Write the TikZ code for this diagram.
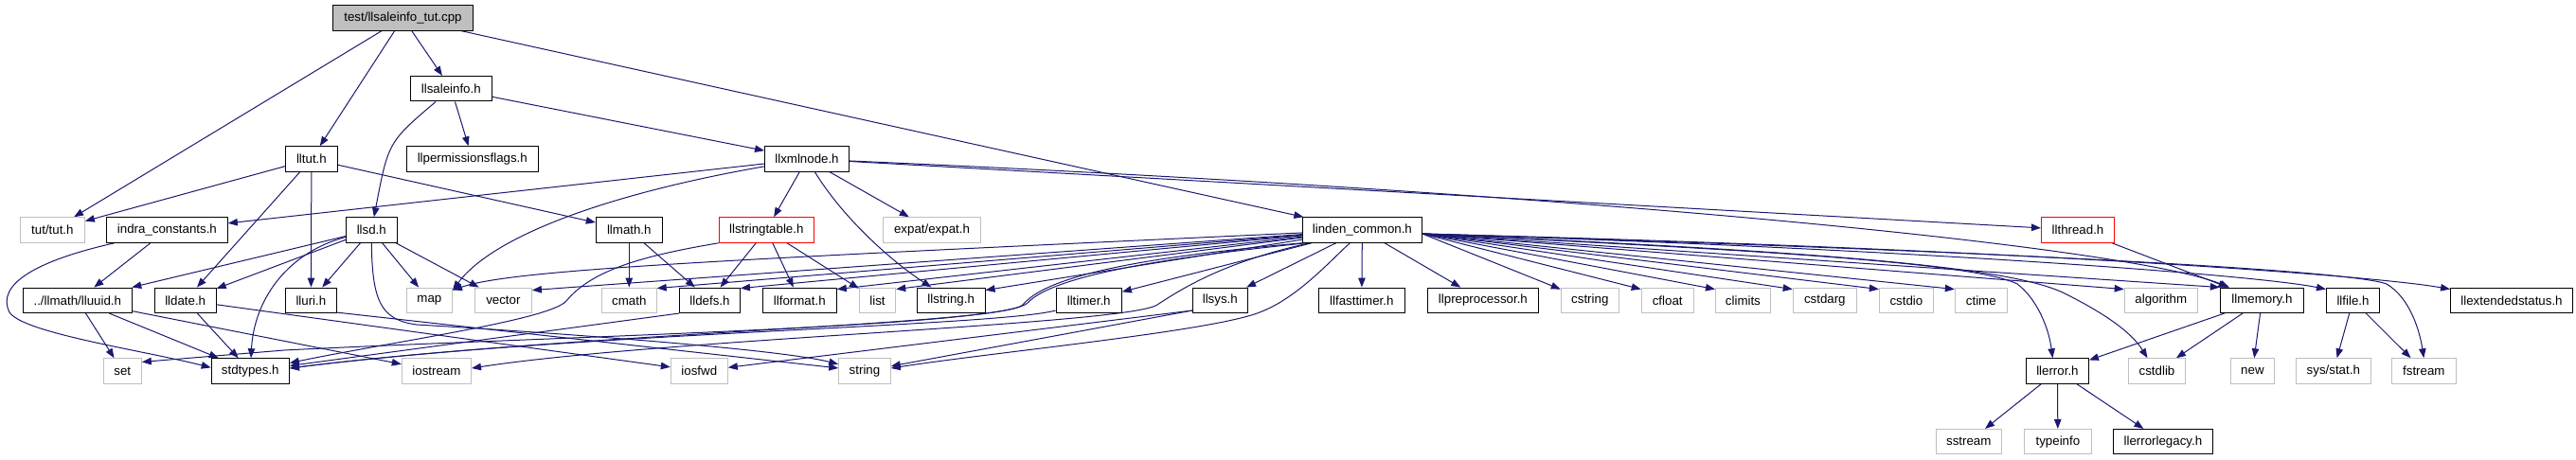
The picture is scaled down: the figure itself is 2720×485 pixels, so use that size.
\documentclass[tikz,border=0pt]{standalone}
\usepackage{fontspec}
\setmainfont{Liberation Sans}
\usetikzlibrary{arrows.meta,backgrounds}
\definecolor{edgeblue}{HTML}{191970}
\definecolor{extgray}{HTML}{BFBFBF}
\begin{document}
\begin{tikzpicture}[x=1pt,y=-1pt,
  nbox/.style={draw=black, line width=1pt, fill=white, minimum height=26.5pt, inner sep=0pt, font=\fontsize{13.3}{15}\selectfont},
  ext/.style={nbox, draw=extgray},
  trunc/.style={nbox, draw=red},
  root/.style={nbox, fill=extgray},
  inc/.style={draw=edgeblue, line width=1pt, -{Triangle[length=10pt,width=7.5pt]}},
]
\useasboundingbox (0,0) rectangle (2720,485);
% row 0
\node[root, minimum width=147.5pt] (top) at (425.5,19) {test/llsaleinfo\_tut.cpp};
% row 1
\node[nbox, minimum width=86.1pt] (saleinfo) at (476.3,93.7) {llsaleinfo.h};
% row 2
\node[nbox, minimum width=55pt] (lltut) at (328.9,168) {lltut.h};
\node[nbox, minimum width=138.9pt] (permflags) at (498.8,168) {llpermissionsflags.h};
\node[nbox, minimum width=88.9pt] (xmlnode) at (852,168) {llxmlnode.h};
% row 3
\node[ext, minimum width=67.9pt] (tuth) at (55.4,243) {tut/tut.h};
\node[nbox, minimum width=127.9pt] (indra) at (176.4,243) {indra\_constants.h};
\node[nbox, minimum width=53.9pt] (llsd) at (392.3,243) {llsd.h};
\node[nbox, minimum width=70pt] (llmath) at (664.3,243) {llmath.h};
\node[trunc, minimum width=100pt] (strtable) at (809.3,243) {llstringtable.h};
\node[ext, minimum width=102.9pt] (expat) at (984,243) {expat/expat.h};
\node[nbox, minimum width=126pt] (lc) at (1438.4,243) {linden\_common.h};
\node[trunc, minimum width=77.1pt] (thread) at (2194,243) {llthread.h};
% row 4
\node[nbox, minimum width=115pt] (uuid) at (81.8,317.3) {../llmath/lluuid.h};
\node[nbox, minimum width=65pt] (date) at (195.7,317.3) {lldate.h};
\node[nbox, minimum width=54pt] (uri) at (328.4,317.3) {lluri.h};
\node[ext, minimum width=48.2pt] (map) at (453.4,317.3) {map};
\node[ext, minimum width=60pt] (vector) at (531.4,317.3) {vector};
\node[ext, minimum width=57.8pt] (cmath) at (664.3,317.3) {cmath};
\node[nbox, minimum width=63.9pt] (defs) at (749.5,317.3) {lldefs.h};
\node[nbox, minimum width=78pt] (format) at (844.3,317.3) {llformat.h};
\node[ext, minimum width=38.4pt] (list) at (926.5,317.3) {list};
\node[nbox, minimum width=71.7pt] (lstring) at (1004.2,317.3) {llstring.h};
\node[nbox, minimum width=69.3pt] (timer) at (1149.7,317.3) {lltimer.h};
\node[nbox, minimum width=58pt] (sys) at (1288.3,317.3) {llsys.h};
\node[nbox, minimum width=91pt] (fasttimer) at (1437.8,317.3) {llfasttimer.h};
\node[nbox, minimum width=116.8pt] (preproc) at (1565.9,317.3) {llpreprocessor.h};
\node[ext, minimum width=61.1pt] (cstring) at (1678.8,317.3) {cstring};
\node[ext, minimum width=55pt] (cfloat) at (1760.7,317.3) {cfloat};
\node[ext, minimum width=57.9pt] (climits) at (1840.4,317.3) {climits};
\node[ext, minimum width=67.2pt] (cstdarg) at (1926.8,317.3) {cstdarg};
\node[ext, minimum width=57.1pt] (cstdio) at (2012.9,317.3) {cstdio};
\node[ext, minimum width=55pt] (ctime) at (2091.8,317.3) {ctime};
\node[ext, minimum width=77.2pt] (algorithm) at (2281.8,317.3) {algorithm};
\node[nbox, minimum width=88.2pt] (memory) at (2388.4,317.3) {llmemory.h};
\node[nbox, minimum width=56.1pt] (file) at (2484.5,317.3) {llfile.h};
\node[nbox, minimum width=128.9pt] (extstatus) at (2652,317.3) {llextendedstatus.h};
% row 5
\node[ext, minimum width=40pt] (set) at (129.3,392) {set};
\node[nbox, minimum width=82.2pt] (stdtypes) at (264.3,392) {stdtypes.h};
\node[ext, minimum width=73.2pt] (iostream) at (460.9,392) {iostream};
\node[ext, minimum width=60pt] (iosfwd) at (738.3,392) {iosfwd};
\node[ext, minimum width=54.6pt] (string) at (913,392) {string};
\node[nbox, minimum width=66.1pt] (error) at (2172.4,392) {llerror.h};
\node[ext, minimum width=60pt] (cstdlib) at (2277.5,392) {cstdlib};
\node[ext, minimum width=46pt] (new) at (2378.4,392) {new};
\node[ext, minimum width=78.9pt] (sysstat) at (2463.8,392) {sys/stat.h};
\node[ext, minimum width=67.8pt] (fstream) at (2559.3,392) {fstream};
% row 6
\node[ext, minimum width=68.9pt] (sstream) at (2078.8,466.7) {sstream};
\node[ext, minimum width=70.7pt] (typeinfo) at (2172.9,466.7) {typeinfo};
\node[nbox, minimum width=105pt] (errlegacy) at (2283.9,466.7) {llerrorlegacy.h};

\begin{pgfonlayer}{background}
% root
\draw[inc] (top) -- (tuth);
\draw[inc] (top) -- (lltut);
\draw[inc] (top) -- (saleinfo);
\draw[inc] (top) -- (lc);
% llsaleinfo.h
\draw[inc] (saleinfo) .. controls (410,150) .. (llsd);
\draw[inc] (saleinfo) -- (permflags);
\draw[inc] (saleinfo) -- (xmlnode);
% lltut.h
\draw[inc] (lltut) -- (tuth);
\draw[inc] (lltut) -- (date);
\draw[inc] (lltut) -- (uri);
\draw[inc] (lltut) -- (llmath);
% llxmlnode.h
\draw[inc] (xmlnode) -- (indra);
\draw[inc] (xmlnode) .. controls (640,205) and (520,250) .. ([yshift=-3pt]map.north east);
\draw[inc] (xmlnode) -- (strtable);
\draw[inc] (xmlnode) .. controls (890,230) and (940,275) .. (lstring);
\draw[inc] (xmlnode) -- (expat);
\draw[inc] (xmlnode) -- (thread);
\draw[inc] (xmlnode) .. controls (1700,205) and (2250,262) .. (memory);
% indra_constants.h
\draw[inc] (indra) -- (uuid);
\draw[inc] ([xshift=9pt]indra.south west) .. controls (40,275) and (-5,300) .. (10,330) .. controls (25,352) and (150,370) .. (stdtypes.175);
% llsd.h
\draw[inc] (llsd) -- (uuid);
\draw[inc] (llsd) -- (date);
\draw[inc] (llsd) .. controls (300,268) and (268,320) .. (stdtypes);
\draw[inc] (llsd) -- (uri);
\draw[inc] (llsd) -- (map);
\draw[inc] (llsd) -- (vector);
\draw[inc] (llsd.south) .. controls (393,318) and (402,338) .. (440,343) .. controls (560,350) and (820,368) .. (string);
% lluuid.h, lldate.h, lluri.h
\draw[inc] (uuid) -- (set);
\draw[inc] (uuid) -- (stdtypes);
\draw[inc] (uuid) -- (iostream);
\draw[inc] (date) -- (stdtypes);
\draw[inc] (date) -- (iosfwd);
\draw[inc] (uri.-25) -- (string);
% llmath.h
\draw[inc] (llmath) -- (cmath);
\draw[inc] (llmath) -- (defs);
% llstringtable.h
\draw[inc] (strtable) -- (defs);
\draw[inc] (strtable) -- (format);
\draw[inc] (strtable) -- (list);
\draw[inc] (strtable.south west) .. controls (680,270) and (625,285) .. (598,318) .. controls (580,338) and (420,360) .. (stdtypes);
% linden_common.h, left
\draw[inc] (lc) -- ([yshift=-3pt]vector.north east);
\draw[inc] (lc) .. controls (750,275) and (540,285) .. ([yshift=-3pt]map.north east);
\draw[inc] (lc) -- ([yshift=-1pt]cmath.north east);
\draw[inc] (lc) -- ([yshift=-1pt]defs.north east);
\draw[inc] (lc) -- ([yshift=-2pt]format.north east);
\draw[inc] (lc) -- ([yshift=-2pt]list.north east);
\draw[inc] (lc) -- ([yshift=-3pt]lstring.north east);
\draw[inc] (lc) -- (timer);
\draw[inc] (lc) -- (sys);
\draw[inc] (lc) -- (fasttimer);
\draw[inc] (lc) -- (preproc);
\draw[inc] (lc.south west) .. controls (1250,268) and (1110,285) .. (1080,322) .. controls (1060,343) and (600,352) .. ([yshift=3pt]stdtypes.east);
\draw[inc] ([xshift=4pt]lc.south west) .. controls (1255,270) and (1115,288) .. (1085,320) .. controls (1060,345) and (600,355) .. (300,370) -- (set.25);
\draw[inc] ([xshift=8pt]lc.south west) .. controls (1300,275) and (1255,300) .. (1222,322) .. controls (1190,343) and (700,358) .. ([yshift=3pt]iostream.east);
\draw[inc] ([xshift=-13pt]lc.south) .. controls (1405,275) and (1370,315) .. (1330,330) .. controls (1280,350) and (1050,372) .. ([yshift=3pt]string.east);
% linden_common.h, right
\draw[inc] ([yshift=-4pt]lc.east) -- ([yshift=-2pt]cstring.north west);
\draw[inc] ([yshift=-4pt]lc.east) -- ([yshift=-2pt]cfloat.north west);
\draw[inc] ([yshift=-4pt]lc.east) -- ([yshift=-2pt]climits.north west);
\draw[inc] ([yshift=-4pt]lc.east) -- ([yshift=-2pt]cstdarg.north west);
\draw[inc] ([yshift=-4pt]lc.east) -- ([yshift=-2pt]cstdio.north west);
\draw[inc] ([yshift=-4pt]lc.east) -- ([yshift=-2pt]ctime.north west);
\draw[inc] ([yshift=-4pt]lc.east) -- ([yshift=-2pt]algorithm.north west);
\draw[inc] ([yshift=-4pt]lc.east) -- (memory.north west);
\draw[inc] ([yshift=-4pt]lc.east) .. controls (2000,262) and (2380,290) .. ([yshift=-2pt]file.north west);
\draw[inc] ([yshift=-4pt]lc.east) .. controls (2100,262) and (2500,290) .. ([yshift=-2pt]extstatus.north west);
\draw[inc] ([yshift=-4pt]lc.east) .. controls (2100,265) and (2480,285) .. (2520,300) .. controls (2545,315) and (2555,350) .. (fstream.north);
\draw[inc] ([yshift=-4pt]lc.east) .. controls (1900,265) and (2120,280) .. (2180,310) .. controls (2220,330) and (2250,350) .. ([xshift=-10pt]cstdlib.north);
\draw[inc] ([yshift=-4pt]lc.east) .. controls (1800,262) and (2080,275) .. (2130,300) .. controls (2150,315) and (2163,345) .. ([xshift=-5pt]error.north);
% lltimer.h, llsys.h, lldefs.h
\draw[inc] ([yshift=3pt]timer.south west) .. controls (1050,345) and (600,352) .. ([yshift=3pt]stdtypes.east);
\draw[inc] ([yshift=3pt]sys.south west) -- (iosfwd);
\draw[inc] ([yshift=3pt]sys.south west) -- (string);
\draw[inc] (defs.south west) -- (stdtypes);
% llthread.h, llmemory.h, llfile.h, llerror.h
\draw[inc] (thread) -- (memory);
\draw[inc] (memory) -- (error);
\draw[inc] (memory) -- (cstdlib);
\draw[inc] (memory) -- (new);
\draw[inc] (file) -- (sysstat);
\draw[inc] (file) -- (fstream);
\draw[inc] (error) -- (sstream);
\draw[inc] (error) -- (typeinfo);
\draw[inc] (error) -- (errlegacy);
\end{pgfonlayer}
\end{tikzpicture}
\end{document}
